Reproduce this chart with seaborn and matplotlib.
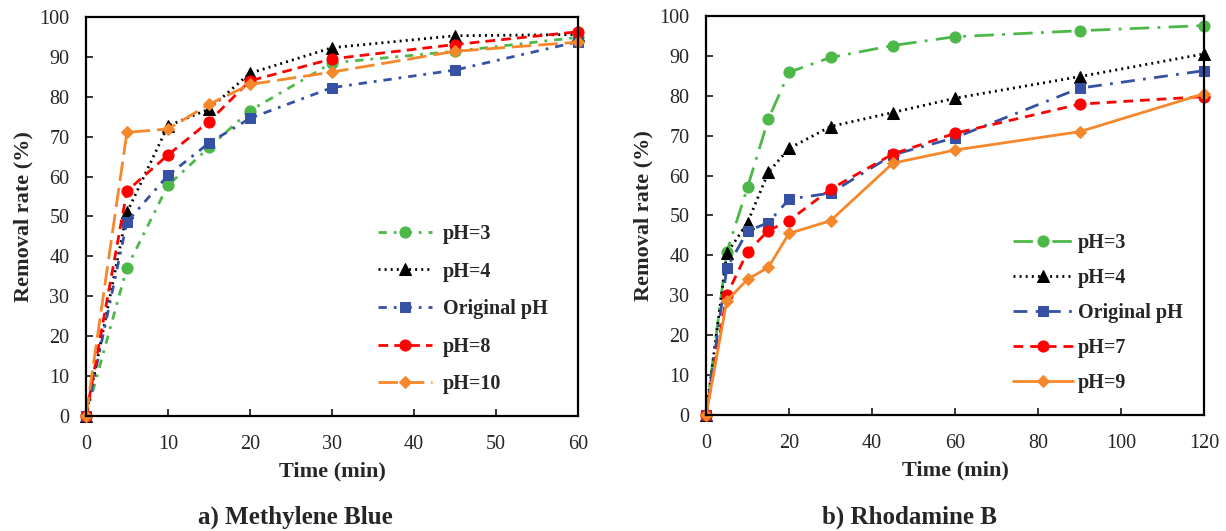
import numpy as np
import pandas as pd
import matplotlib
matplotlib.use("Agg")
import matplotlib.pyplot as plt
import seaborn as sns

# ---- data: a) Methylene Blue ----
time_mb = [0, 5, 10, 15, 20, 30, 45, 60]
mb_ph3 = [0, 37.2, 57.8, 67.3, 76.5, 88.5, 91.4, 94.9]
mb_ph4 = [0, 51.0, 72.7, 76.9, 85.9, 92.3, 95.3, 95.6]
mb_orig = [0, 48.6, 60.3, 68.4, 74.6, 82.3, 86.7, 93.8]
mb_ph8 = [0, 56.4, 65.4, 73.8, 84.0, 89.5, 93.1, 96.3]
mb_ph10 = [0, 71.1, 71.9, 78.1, 83.1, 86.2, 91.4, 93.7]

# ---- data: b) Rhodamine B ----
time_rb = [0, 5, 10, 15, 20, 30, 45, 60, 90, 120]
rb_ph3 = [0, 40.8, 57.1, 74.1, 85.9, 89.6, 92.6, 94.8, 96.3, 97.6]
rb_ph4 = [0, 40.5, 48.2, 60.8, 66.8, 72.3, 75.8, 79.4, 84.8, 90.5]
rb_orig = [0, 36.8, 46.1, 48.2, 54.1, 55.6, 65.2, 69.5, 81.9, 86.3]
rb_ph7 = [0, 30.1, 40.9, 46.2, 48.7, 56.6, 65.4, 70.6, 77.9, 79.8]
rb_ph9 = [0, 28.6, 34.0, 37.0, 45.5, 48.7, 63.1, 66.4, 71.0, 80.5]

GREEN = "#4cb848"
BLACK = "#000000"
BLUE = "#3451a3"
RED = "#ff0000"
ORANGE = "#f6872b"

sns.set_style("ticks")
plt.rcParams["font.family"] = ["Liberation Serif", "DejaVu Serif"]
plt.rcParams["axes.linewidth"] = 1.6
plt.rcParams["xtick.direction"] = "in"
plt.rcParams["ytick.direction"] = "in"
plt.rcParams["xtick.major.size"] = 5
plt.rcParams["ytick.major.size"] = 5
plt.rcParams["xtick.major.width"] = 1.3
plt.rcParams["ytick.major.width"] = 1.3

fig = plt.figure(figsize=(12.26, 5.31), dpi=100)
ax1 = fig.add_axes([0.0701, 0.2166, 0.4013, 0.7514])
ax2 = fig.add_axes([0.5759, 0.2185, 0.4062, 0.7514])

series_mb = [
    ("pH=3", mb_ph3, GREEN, "o", (0, (3, 2.5, 1, 2.5)), 8),
    ("pH=4", mb_ph4, BLACK, "^", (0, (0.7, 1.5)), 8),
    ("Original pH", mb_orig, BLUE, "s", (0, (3, 2.5, 1, 2.5)), 7.5),
    ("pH=8", mb_ph8, RED, "o", (0, (3.5, 2.2)), 8),
    ("pH=10", mb_ph10, ORANGE, "D", (0, (7, 2.5)), 6.5),
]
series_rb = [
    ("pH=3", rb_ph3, GREEN, "o", (0, (7, 3, 1, 3)), 8),
    ("pH=4", rb_ph4, BLACK, "^", (0, (0.7, 1.5)), 8),
    ("Original pH", rb_orig, BLUE, "s", (0, (5, 3, 1, 3)), 7.5),
    ("pH=7", rb_ph7, RED, "o", (0, (3.5, 2.5)), 8),
    ("pH=9", rb_ph9, ORANGE, "D", "-", 6.5),
]

for ax, t, series in [(ax1, time_mb, series_mb), (ax2, time_rb, series_rb)]:
    for label, vals, col, mk, ls, ms in series:
        sns.lineplot(x=t, y=vals, ax=ax, color=col, marker=mk, linestyle=ls,
                     linewidth=2, markersize=ms, markeredgecolor=col,
                     label=label, clip_on=False)
    ax.set_ylim(0, 100)
    ax.set_yticks(np.arange(0, 101, 10))
    ax.tick_params(labelsize=14.5, right=False, top=False)
    ax.tick_params(axis="x", pad=14)
    ax.tick_params(axis="y", pad=12)
    ax.set_xlabel("Time (min)", fontsize=16, fontweight="bold", labelpad=5)
    ax.set_ylabel("Removal rate (%)", fontsize=16, fontweight="bold", labelpad=4)
    for s in ax.spines.values():
        s.set_visible(True)
        s.set_color("black")

ax1.set_xlim(0, 60)
ax1.set_xticks(np.arange(0, 61, 10))
ax2.set_xlim(0, 120)
ax2.set_xticks(np.arange(0, 121, 20))

ax1.legend(loc="center left", bbox_to_anchor=(0.593, 0.268), frameon=False,
           borderpad=0, borderaxespad=0, handlelength=2.69, handletextpad=0.55,
           labelspacing=0.87, prop={"weight": "bold", "size": 14.5})
ax2.legend(loc="center left", bbox_to_anchor=(0.616, 0.255), frameon=False,
           borderpad=0, borderaxespad=0, handlelength=2.98, handletextpad=0.25,
           labelspacing=0.75, prop={"weight": "bold", "size": 14.5})

fig.text(0.241, 0.026, "a) Methylene Blue", ha="center", va="center",
         fontsize=18, fontweight="bold")
fig.text(0.742, 0.026, "b) Rhodamine B", ha="center", va="center",
         fontsize=18, fontweight="bold")

fig.savefig("out.png", dpi=100)
